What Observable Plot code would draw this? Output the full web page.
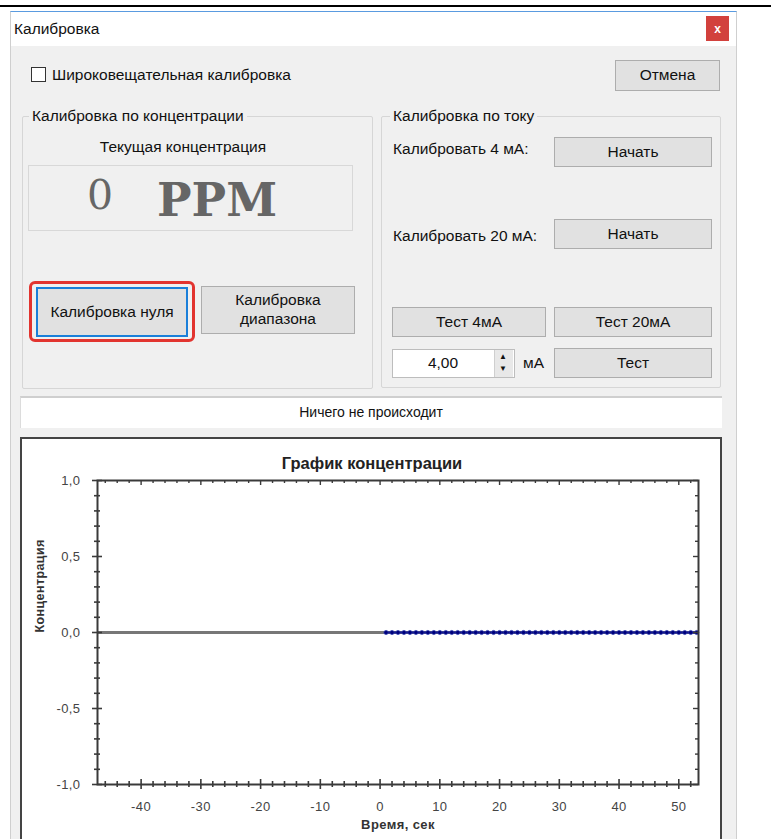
<!DOCTYPE html>
<html>
<head>
<meta charset="utf-8">
<script src="https://cdn.jsdelivr.net/npm/d3@7"></script>
<script src="https://cdn.jsdelivr.net/npm/@observablehq/plot@0.6"></script>
<style>
  html, body { margin: 0; padding: 0; background: #fff; width: 771px; height: 839px; overflow: hidden; }
  body { position: relative; font-family: "Liberation Sans", Arial, sans-serif; font-size: 15.5px; color: #111; }
  .abs { position: absolute; box-sizing: border-box; }
  .lbl { position: absolute; white-space: nowrap; line-height: 1; transform: translateY(-50%); }
  .btn { position: absolute; box-sizing: border-box; background: #e1e1e1; border: 1px solid #adadad;
         display: flex; align-items: center; justify-content: center; text-align: center; line-height: 1.2; }
  .group { position: absolute; box-sizing: border-box; border: 1px solid #d6d6d6; border-radius: 2px; }
  .glabel { position: absolute; background: #f0f0f0; padding: 0 3px; white-space: nowrap; line-height: 1; transform: translateY(-50%); }
  #chart svg text { letter-spacing: 0.4px; }
</style>
</head>
<body>
<div id="page"></div>
<script>
// ---- data ----
const times = [1, 2, 3, 4, 5, 6, 7, 8, 9, 10, 11, 12, 13, 14, 15, 16, 17, 18, 19, 20,
  21, 22, 23, 24, 25, 26, 27, 28, 29, 30, 31, 32, 33, 34, 35, 36, 37, 38, 39, 40,
  41, 42, 43, 44, 45, 46, 47, 48, 49, 50, 51, 52, 53];
const concentration = [0, 0, 0, 0, 0, 0, 0, 0, 0, 0, 0, 0, 0, 0, 0, 0, 0, 0, 0, 0,
  0, 0, 0, 0, 0, 0, 0, 0, 0, 0, 0, 0, 0, 0, 0, 0, 0, 0, 0, 0,
  0, 0, 0, 0, 0, 0, 0, 0, 0, 0, 0, 0, 0];
const xTicks = [-40, -30, -20, -10, 0, 10, 20, 30, 40, 50];
const xMinorTicks = [-46, -44, -42, -38, -36, -34, -32, -28, -26, -24, -22, -18, -16, -14, -12,
  -8, -6, -4, -2, 2, 4, 6, 8, 12, 14, 16, 18, 22, 24, 26, 28, 32, 34, 36, 38, 42, 44, 46, 48, 52];
const yTicks = [-1, -0.5, 0, 0.5, 1];
const yMinorTicks = [-0.9, -0.8, -0.7, -0.6, -0.4, -0.3, -0.2, -0.1, 0.1, 0.2, 0.3, 0.4, 0.6, 0.7, 0.8, 0.9];
const xDomain = [-47.3, 53.3];
const yDomain = [-1, 1];
const chartTitle = "График концентрации";
const xLabel = "Время, сек";
const yLabel = "Концентрация";

// ---- dialog chrome ----
const page = document.getElementById("page");
page.innerHTML = `
  <div class="abs" style="left:0;width:771px;height:2px;top:5px;background:#000"></div>
  <div class="abs" style="left:10px;top:11px;width:727px;height:840px;background:#f0f0f0;border-top:1px solid #5a9be0;border-left:1px solid #cfcfcf;border-right:1px solid #cfcfcf"></div>
  <div class="abs" style="left:11px;top:12px;width:725px;height:34px;background:#fff"></div>
  <div class="lbl" style="left:14px;top:29px">Калибровка</div>
  <div class="abs" style="left:706px;top:16px;width:23px;height:25px;background:#d2413d;color:#fff;font-size:12px;font-weight:bold;display:flex;align-items:center;justify-content:center">x</div>

  <div class="abs" style="left:31px;top:67px;width:15px;height:15px;background:#fff;border:1px solid #333"></div>
  <div class="lbl" style="left:52px;top:75px">Широковещательная калибровка</div>
  <div class="btn" style="left:615px;top:60px;width:105px;height:31px">Отмена</div>

  <div class="group" style="left:22px;top:116px;width:351px;height:273px"></div>
  <div class="glabel" style="left:29px;top:116px">Калибровка по концентрации</div>
  <div class="lbl" style="left:183px;top:147px;transform:translate(-50%,-50%)">Текущая концентрация</div>
  <div class="abs" style="left:28px;top:165px;width:325px;height:66px;border:1px solid #d8d8d8"></div>
  <div class="lbl" style="left:100px;top:195px;transform:translate(-50%,-50%);font-family:'DejaVu Serif',serif;font-size:41px;color:#666">0</div>
  <div class="lbl" style="left:157px;top:200px;font-family:'DejaVu Serif',serif;font-weight:bold;font-size:46px;color:#666">PPM</div>

  <div class="abs" style="left:29px;top:281px;width:166px;height:61px;border:3px solid #e2342f;border-radius:6px"></div>
  <div class="btn" style="left:36px;top:287px;width:152px;height:50px;border:2px solid #1a7fd9">Калибровка нуля</div>
  <div class="btn" style="left:201px;top:286px;width:154px;height:48px">Калибровка<br>диапазона</div>

  <div class="group" style="left:381px;top:116px;width:340px;height:272px"></div>
  <div class="glabel" style="left:390px;top:116px">Калибровка по току</div>
  <div class="lbl" style="left:393px;top:149px">Калибровать 4 мА:</div>
  <div class="btn" style="left:554px;top:137px;width:158px;height:30px">Начать</div>
  <div class="lbl" style="left:393px;top:236px">Калибровать 20 мА:</div>
  <div class="btn" style="left:554px;top:219px;width:158px;height:30px">Начать</div>
  <div class="btn" style="left:392px;top:307px;width:154px;height:30px">Тест 4мА</div>
  <div class="btn" style="left:554px;top:307px;width:158px;height:30px">Тест 20мА</div>
  <div class="abs" style="left:392px;top:349px;width:123px;height:29px;background:#fff;border:1px solid #bdbdbd"></div>
  <div class="lbl" style="left:443px;top:363px;transform:translate(-50%,-50%)">4,00</div>
  <div class="abs" style="left:494px;top:350px;width:19px;height:27px;background:#e8e8e8;border-left:1px solid #cfcfcf"></div>
  <div class="lbl" style="left:503px;top:357px;transform:translate(-50%,-50%);font-size:8px">▲</div>
  <div class="lbl" style="left:503px;top:369px;transform:translate(-50%,-50%);font-size:8px">▼</div>
  <div class="lbl" style="left:523px;top:363px">мА</div>
  <div class="btn" style="left:554px;top:348px;width:158px;height:30px">Тест</div>

  <div class="abs" style="left:20px;top:396px;width:702px;height:32px;background:#fff;border-top:2px solid #cfcfcf;border-left:1px solid #dcdcdc"></div>
  <div class="lbl" style="left:371px;top:412px;transform:translate(-50%,-50%);font-size:14px">Ничего не происходит</div>

  <div class="abs" style="left:20px;top:437px;width:702px;height:410px;background:#fff;border:2px solid #444"></div>
  <div class="lbl" style="left:372px;top:463px;transform:translate(-50%,-50%);font-weight:bold;font-size:16.5px;color:#222">${chartTitle}</div>
  <div id="chart" class="abs" style="left:22px;top:439px"></div>
`;

// ---- chart ----
const data = times.map((t, i) => ({t, c: concentration[i]}));
const W = 698, H = 400, mL = 75, mR = 22, mT = 41, mB = 55;
const plotW = W - mL - mR, plotH = H - mT - mB;
const axisColor = "#3a3a3a";

const chart = Plot.plot({
  width: W,
  height: H,
  marginLeft: mL,
  marginRight: mR,
  marginTop: mT,
  marginBottom: mB,
  style: {fontFamily: "Liberation Sans, Arial, sans-serif", fontSize: "13px", color: "#333", background: "transparent", overflow: "visible"},
  x: {domain: xDomain},
  y: {domain: yDomain},
  marks: [
    Plot.ruleY([0], {stroke: "#777", strokeWidth: 2.8}),
    Plot.line(data, {x: "t", y: "c", stroke: "#0a0a8a", strokeWidth: 2.2}),
    Plot.dot(data, {x: "t", y: "c", r: 2.1, fill: "#00007a", stroke: "#2a3ab0", strokeWidth: 0.7}),
    Plot.frame({stroke: axisColor, strokeWidth: 2}),
    // bottom ticks (crossing)
    Plot.tickX(xTicks, {stroke: axisColor, strokeWidth: 1.6, insetTop: plotH - 5, insetBottom: -5}),
    Plot.tickX(xMinorTicks, {stroke: axisColor, strokeWidth: 1.6, insetTop: plotH - 3, insetBottom: -3}),
    // top ticks (inward)
    Plot.tickX(xTicks, {stroke: axisColor, strokeWidth: 1.4, insetBottom: plotH - 5}),
    Plot.tickX(xMinorTicks, {stroke: axisColor, strokeWidth: 1.4, insetBottom: plotH - 3}),
    // left ticks (crossing)
    Plot.tickY(yTicks, {stroke: axisColor, strokeWidth: 1.6, insetRight: plotW - 5, insetLeft: -5}),
    Plot.tickY(yMinorTicks, {stroke: axisColor, strokeWidth: 1.6, insetRight: plotW - 3, insetLeft: -3}),
    // right ticks (inward)
    Plot.tickY(yTicks, {stroke: axisColor, strokeWidth: 1.4, insetLeft: plotW - 5}),
    Plot.tickY(yMinorTicks, {stroke: axisColor, strokeWidth: 1.4, insetLeft: plotW - 3}),
    Plot.axisX(xTicks, {tickSize: 0, tickPadding: 17, label: null, tickFormat: d => String(d), fill: "#444"}),
    Plot.axisY(yTicks, {tickSize: 0, tickPadding: 17, label: null, tickFormat: d => d.toFixed(1).replace(".", ","), fill: "#444"}),
    Plot.text([xLabel], {frameAnchor: "bottom", dy: 44, fontWeight: "bold", fontSize: 13, fill: "#333"}),
    Plot.text([yLabel], {frameAnchor: "left", dx: -58, rotate: -90, fontWeight: "bold", fontSize: 12.5, fill: "#333"})
  ]
});
document.getElementById("chart").appendChild(chart);
</script>
</body>
</html>
